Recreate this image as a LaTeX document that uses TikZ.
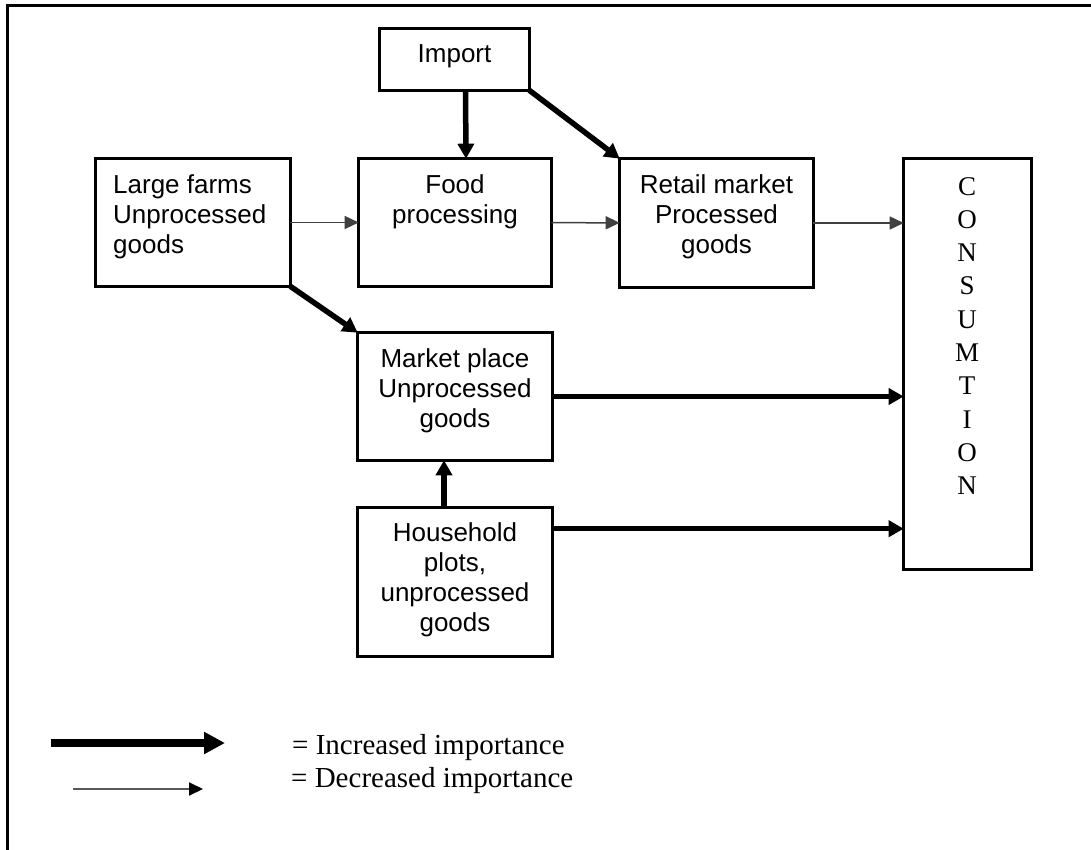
\documentclass[tikz,border=0pt]{standalone}
\usepackage{fontspec}
\setmainfont{Liberation Serif}
\newfontfamily\boxfont{Liberation Sans}
\usetikzlibrary{arrows.meta}
\begin{document}
\begin{tikzpicture}[x=1pt,y=-1pt,
  box/.style={draw,line width=3.4pt,inner sep=0pt,outer sep=0pt},
  lbl/.style={font=\boxfont\fontsize{26}{30}\selectfont,inner sep=0pt,align=center},
  vert/.style={font=\fontsize{27}{33.3}\selectfont,inner sep=0pt,align=center},
  legtext/.style={font=\fontsize{29}{33}\selectfont,inner sep=0pt,anchor=base west},
  strong/.style={line width=5.5pt,-{Triangle[length=15pt,width=16pt]}},
  weak/.style={line width=1.5pt,black!75,-{Triangle[length=14pt,width=13pt]}},
  strongkey/.style={line width=8pt,-{Triangle[length=21pt,width=21pt]}},
  weakkey/.style={line width=2pt,black!65,-{Triangle[length=14pt,width=13pt,fill=black,color=black]}}]

\useasboundingbox (0,0) rectangle (1091,850);
\clip (0,0) rectangle (1091,850);
\fill[white] (0,0) rectangle (1091,850);

% outer frame (runs past the page on the right and bottom)
\draw[line width=2.8pt] (7.5,900) -- (7.5,5.5) -- (1200,5.5);

% boxes
\node[box,minimum width=149.6pt,minimum height=61.6pt] (imp) at (454.5,59.5) {};
\node[box,minimum width=194.6pt,minimum height=127.6pt] (farms) at (193,222.5) {};
\node[box,minimum width=192.6pt,minimum height=127.6pt] (food) at (455,222.5) {};
\node[box,minimum width=193.6pt,minimum height=128.6pt] (retail) at (716.5,223) {};
\node[box,minimum width=127.6pt,minimum height=410.6pt] (cons) at (967.5,364) {};
\node[box,minimum width=194.6pt,minimum height=127.6pt] (market) at (455,396.5) {};
\node[box,minimum width=194.6pt,minimum height=148.6pt] (house) at (455,582) {};

% box texts
\node[lbl,anchor=base] (impT) at (454.5,63) {Import};
\node[lbl,anchor=north west,align=left] (farmsT) at (113,174) {Large farms\\Unprocessed\\goods};
\node[lbl,anchor=north] (foodT) at (455,174) {Food\\processing};
\node[lbl,anchor=north] (retailT) at (716.5,174) {Retail market\\Processed\\goods};
\node[lbl,anchor=north] (marketT) at (455,348) {Market place\\Unprocessed\\goods};
\node[lbl,anchor=north] (houseT) at (455,522) {Household\\plots,\\unprocessed\\goods};
\node[vert,anchor=north] (consT) at (967,177) {C\\O\\N\\S\\U\\M\\T\\I\\O\\N};

% flows
\draw[weak] (farms) -- (food);
\draw[weak] (food) -- (retail);
\draw[weak] (retail.east) -- (retail.east -| cons.west);
\draw[strong] ([xshift=11pt]imp.south) -- ([xshift=11pt]food.north);
\draw[strong] (imp.south east) -- (retail.north west);
\draw[strong] (farms.south east) -- (market.north west);
\draw[strong] (market.east) -- (market.east -| cons.west);
\coordinate (hout) at ([yshift=-21pt]house.north east);
\draw[strong] (hout) -- (hout -| cons.west);
\draw[strong] ([xshift=-11pt]house.north) -- ([xshift=-11pt]market.south);

% key
\coordinate (k1a) at (51,743);
\coordinate (k1b) at (225,743);
\coordinate (k2a) at (73,789);
\coordinate (k2b) at (203,789);
\draw[strongkey] (k1a) -- (k1b);
\draw[weakkey] (k2a) -- (k2b);
\node[legtext] (incT) at (292,754) {= Increased importance};
\node[legtext] (decT) at (291,787) {= Decreased importance};
\end{tikzpicture}
\end{document}
